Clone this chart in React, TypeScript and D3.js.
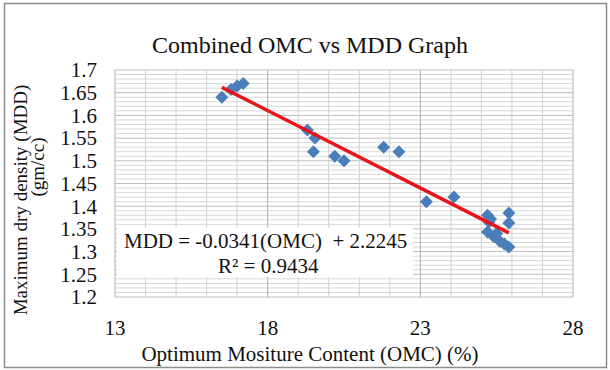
import React from "react";
import * as d3 from "d3";

// OMC (%) and MDD (gm/cc) readings
const omc = [16.5, 16.8, 17.0, 17.2, 19.3, 19.55, 19.5, 20.2, 20.5, 21.8, 22.3, 23.2, 24.1,
	25.2, 25.25, 25.2, 25.4, 25.6, 25.75, 25.9, 25.9, 25.9, 25.3, 25.5];
const mdd = [1.64, 1.657, 1.665, 1.67, 1.568, 1.55, 1.52, 1.51, 1.5, 1.53, 1.52, 1.41, 1.42,
	1.38, 1.365, 1.343, 1.333, 1.323, 1.317, 1.31, 1.385, 1.363, 1.372, 1.34];

const xTicks = [13, 18, 23, 28];
const yTicks = [1.2, 1.25, 1.3, 1.35, 1.4, 1.45, 1.5, 1.55, 1.6, 1.65, 1.7];
const slope = -0.0341;
const intercept = 2.2245;

const W = 610;
const H = 370;
const margin = { top: 70, right: 37, bottom: 73, left: 115 };

const App = () => {
	const x = d3.scaleLinear().domain([13, 28]).range([margin.left, W - margin.right]);
	const y = d3.scaleLinear().domain([1.2, 1.7]).range([H - margin.bottom, margin.top]);

	const vLines = d3.range(13, 28.01, 1);
	const hLines = d3.range(0, 51).map((i) => 1.2 + i * 0.01);

	const xMin = d3.min(omc);
	const xMax = d3.max(omc);
	const r = 6.5;
	const diamond = `M0,${-r}L${r},0L0,${r}L${-r},0Z`;

	return (
		<svg width={W} height={H}
			style={{ position: "absolute", left: 0, top: 0, fontFamily: "Liberation Serif, DejaVu Serif, serif" }}>
			<rect x={0} y={0} width={W} height={H} fill="#fff" />
			<rect x={4.5} y={3.5} width={602} height={364} fill="none" stroke="#8c8c8c" strokeWidth={1.5} />

			<text x={310} y={53} textAnchor="middle" fontSize={24} fill="#111">
				Combined OMC vs MDD Graph
			</text>

			{/* grid */}
			{hLines.map((v, i) => (
				<line key={"h" + i} x1={x(13)} x2={x(28)} y1={y(v)} y2={y(v)}
					stroke={i % 5 === 0 ? "#bdbdbd" : "#d8d8d8"} strokeWidth={1} />
			))}
			{vLines.map((v) => (
				<line key={"v" + v} x1={x(v)} x2={x(v)} y1={y(1.2)} y2={y(1.7)}
					stroke={(v - 13) % 5 === 0 ? "#b0b0b0" : "#cfcfcf"} strokeWidth={1} />
			))}

			{/* equation box */}
			<rect x={x(13) + 2} y={228} width={296} height={49} fill="#fff" />
			<text x={124} y={248} fontSize={21} fill="#111" style={{ whiteSpace: "pre" }}>
				{"MDD = -0.0341(OMC)  + 2.2245"}
			</text>
			<text x={218} y={273} fontSize={21} fill="#111">
				R² = 0.9434
			</text>

			{/* points */}
			{omc.map((o, i) => (
				<path key={"p" + i} d={diamond} transform={`translate(${x(o)},${y(mdd[i])})`} fill="#4a7ebb" />
			))}

			{/* trend line */}
			<line x1={x(xMin)} y1={y(slope * xMin + intercept)} x2={x(xMax)} y2={y(slope * xMax + intercept)}
				stroke="#e8141a" strokeWidth={3.5} />

			{/* y ticks */}
			{yTicks.map((t) => (
				<text key={"yt" + t} x={97} y={y(t)} dy="0.35em" textAnchor="end" fontSize={21} fill="#111">
					{t}
				</text>
			))}
			{/* x ticks */}
			{xTicks.map((t) => (
				<text key={"xt" + t} x={x(t)} y={335} textAnchor="middle" fontSize={21} fill="#111">
					{t}
				</text>
			))}

			<text x={310} y={361} textAnchor="middle" fontSize={21} fill="#111">
				Optimum Mositure Content (OMC) (%)
			</text>
			<g transform="rotate(-90)">
				<text x={-200} y={27} textAnchor="middle" fontSize={19} fill="#111">Maximum dry density (MDD)</text>
				<text x={-167} y={44} textAnchor="middle" fontSize={19} fill="#111">(gm/cc)</text>
			</g>
		</svg>
	);
};

export default App;
